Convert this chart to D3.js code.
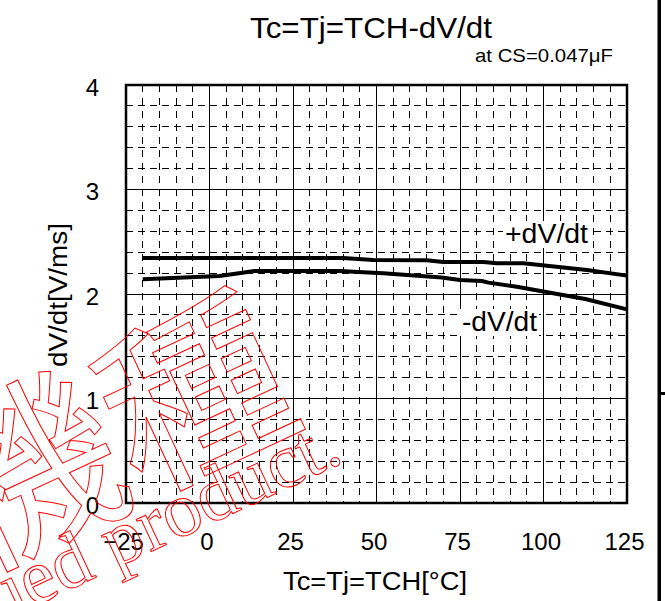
<!DOCTYPE html>
<html><head><meta charset="utf-8">
<script src="https://cdn.jsdelivr.net/npm/d3@7"></script>
<style>html,body{margin:0;padding:0;background:#fff}svg{display:block}</style>
</head><body>
<script>
// ---- data ----
const titleText = "Tc=Tj=TCH-dV/dt";
const subtitleText = "at CS=0.047μF";
const xTitle = "Tc=Tj=TCH[°C]";
const yTitle = "dV/dt[V/ms]";
const xTicks = [-25, 0, 25, 50, 75, 100, 125];
const yTicks = [0, 1, 2, 3, 4];
const plusT = [-20, 40, 49, 65, 70, 82, 86, 94, 113, 125];
const plusV = [2.345, 2.345, 2.326, 2.323, 2.307, 2.307, 2.294, 2.294, 2.23, 2.176];
const minusT = [-20, 3, 13.5, 39, 49, 52, 69.5, 75, 81.5, 83.5, 92, 112.5, 125];
const minusV = [2.14, 2.173, 2.22, 2.22, 2.204, 2.198, 2.157, 2.134, 2.125, 2.109, 2.07, 1.952, 1.853];
const seriesLabels = ["+dV/dt", "-dV/dt"];
const wmJa = "機種";
const wmEn = "Discontinued product.";

const W = 665, H = 601;
const L = 126, R = 627, T = 85, B = 503;
const FONT = "'Liberation Sans', Arial, sans-serif";

const svg = d3.select("body").append("svg").attr("width", W).attr("height", H);
const x = d3.scaleLinear().domain([-25, 125]).range([L, R]);
const y = d3.scaleLinear().domain([0, 4]).range([B, T]);

// minor grid
const g = svg.append("g");
g.selectAll("line.vmin").data(d3.range(-20, 125, 5).filter(v => v % 25 !== 0))
  .join("line").attr("x1", d => x(d)).attr("x2", d => x(d)).attr("y1", T).attr("y2", B)
  .attr("stroke", "#000").attr("stroke-width", 1).attr("stroke-dasharray", "7,6").attr("shape-rendering", "crispEdges");
g.selectAll("line.hmin").data(d3.range(1, 20).map(i => i * 0.2).filter((v, i) => (i + 1) % 5 !== 0))
  .join("line").attr("x1", L).attr("x2", R).attr("y1", d => y(d)).attr("y2", d => y(d))
  .attr("stroke", "#000").attr("stroke-width", 1).attr("stroke-dasharray", "7,5").attr("shape-rendering", "crispEdges");
// major grid
g.selectAll("line.vmaj").data(xTicks.slice(1, -1)).join("line")
  .attr("x1", d => x(d)).attr("x2", d => x(d)).attr("y1", T).attr("y2", B)
  .attr("stroke", "#000").attr("stroke-width", 1).attr("shape-rendering", "crispEdges");
g.selectAll("line.hmaj").data(yTicks.slice(1, -1)).join("line")
  .attr("x1", L).attr("x2", R).attr("y1", d => y(d)).attr("y2", d => y(d))
  .attr("stroke", "#000").attr("stroke-width", 1).attr("shape-rendering", "crispEdges");

// frame
svg.append("rect").attr("x", L).attr("y", T).attr("width", R - L).attr("height", B - T)
  .attr("fill", "none").attr("stroke", "#000").attr("stroke-width", 2.5);

// axes labels via d3 axes (lines hidden)
const xAxis = svg.append("g").attr("transform", `translate(-3,${B})`)
  .call(d3.axisBottom(x).tickValues(xTicks).tickSize(0).tickPadding(0).tickFormat(d3.format("d")));
xAxis.select(".domain").remove();
xAxis.selectAll("text").attr("font-family", FONT).attr("font-size", 24).attr("fill", "#000")
  .attr("dy", null).attr("y", 47);
const yAxis = svg.append("g").attr("transform", `translate(99,0)`)
  .call(d3.axisLeft(y).tickValues(yTicks).tickSize(0).tickPadding(0).tickFormat(d3.format("d")));
yAxis.select(".domain").remove();
yAxis.selectAll("text").attr("font-family", FONT).attr("font-size", 24).attr("fill", "#000")
  .attr("dy", null).attr("y", 10).attr("x", 0);

// series
const line = d3.line().x(d => x(d[0])).y(d => y(d[1]));
[[plusT, plusV], [minusT, minusV]].forEach(([ts, vs]) => {
  svg.append("path").datum(ts.map((t, i) => [t, vs[i]])).attr("d", line)
    .attr("fill", "none").attr("stroke", "#000").attr("stroke-width", 4).attr("stroke-linejoin", "round");
});

// series labels with white background
function label(txt, x0, yb, len) {
  svg.append("rect").attr("x", x0 - 2).attr("y", yb - 22).attr("width", len + 4).attr("height", 27).attr("fill", "#fff");
  svg.append("text").attr("x", x0).attr("y", yb).attr("font-family", FONT).attr("font-size", 27)
    .attr("textLength", len).attr("lengthAdjust", "spacingAndGlyphs").text(txt);
}
label(seriesLabels[0], 505, 243, 83);
label(seriesLabels[1], 462, 331, 75);

// titles
svg.append("text").attr("x", 250).attr("y", 38).attr("font-family", FONT).attr("font-size", 29)
  .attr("textLength", 242).attr("lengthAdjust", "spacingAndGlyphs").text(titleText);
svg.append("text").attr("x", 475).attr("y", 62).attr("font-family", FONT).attr("font-size", 19)
  .attr("textLength", 138).attr("lengthAdjust", "spacingAndGlyphs").text(subtitleText);
svg.append("text").attr("x", 283).attr("y", 590).attr("font-family", FONT).attr("font-size", 26)
  .attr("textLength", 184).attr("lengthAdjust", "spacingAndGlyphs").text(xTitle);
svg.append("text").attr("transform", "translate(67,367) rotate(-90)").attr("font-family", FONT).attr("font-size", 26)
  .attr("textLength", 144).attr("lengthAdjust", "spacingAndGlyphs").text(yTitle);

// right edge bar
svg.append("rect").attr("x", 657.5).attr("y", 0).attr("width", 3.5).attr("height", H).attr("fill", "#000");
svg.append("rect").attr("x", 661).attr("y", 392).attr("width", 4).attr("height", 3).attr("fill", "#000");

// watermark
const wmSize = 185, enSize = 77;
const wm = svg.append("g").attr("transform", "translate(193,392) rotate(-25)")
  .attr("fill", "none").attr("stroke", "#f00").attr("stroke-width", 1);
wm.append("text").attr("x", wmSize * 0.5).attr("y", wmSize * 0.38).attr("text-anchor", "end")
  .attr("font-family", "'Noto Sans CJK JP', sans-serif").attr("font-size", wmSize).text(wmJa);
wm.append("text").attr("x", 109).attr("y", 127).attr("text-anchor", "end")
  .attr("font-family", "'Liberation Serif', 'Times New Roman', serif").attr("font-size", enSize).text(wmEn);
</script>
</body></html>
